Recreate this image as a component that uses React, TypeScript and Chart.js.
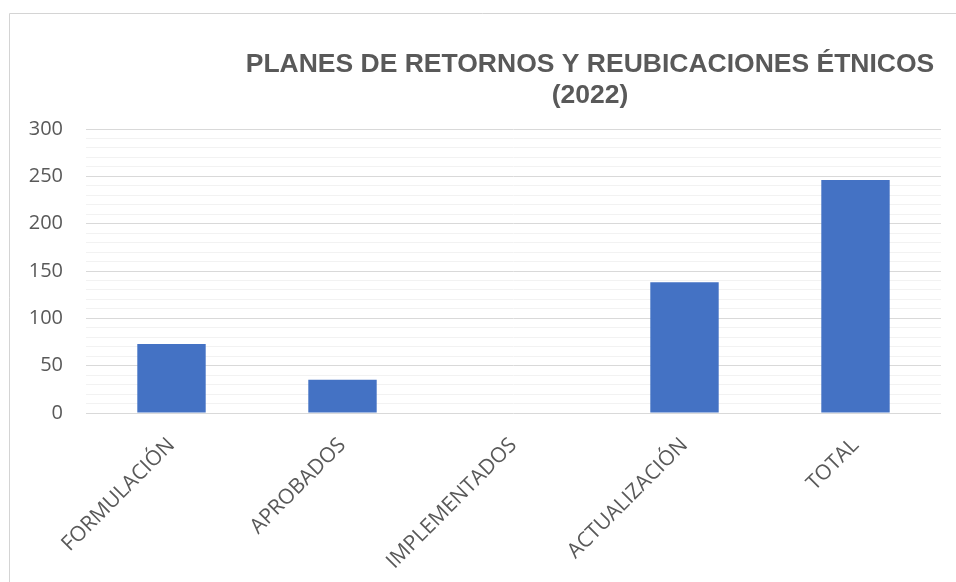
import React, { useEffect, useRef } from "react";
import { Chart, registerables } from "chart.js";

Chart.register(...registerables);

const categories = ["FORMULACIÓN", "APROBADOS", "IMPLEMENTADOS", "ACTUALIZACIÓN", "TOTAL"];
const values = [73, 35, 0, 138, 246];
const titleLines = ["PLANES DE RETORNOS Y REUBICACIONES ÉTNICOS", "(2022)"];
const yMin = 0;
const yMax = 300;
const majorStep = 50;
const minorStep = 10;

const TEXT = "#595959";

const framePlugin = {
  id: "frame",
  beforeDraw(chart: any) {
    const ctx = chart.ctx;
    ctx.save();
    ctx.strokeStyle = "#d4d4d4";
    ctx.lineWidth = 1;
    ctx.beginPath();
    ctx.moveTo(9.5, chart.height);
    ctx.lineTo(9.5, 13.5);
    ctx.lineTo(chart.width, 13.5);
    ctx.stroke();
    ctx.restore();
  },
  afterDraw(chart: any) {
    const ctx = chart.ctx;
    ctx.save();
    ctx.fillStyle = TEXT;
    ctx.font = 'bold 26.5px "Liberation Sans", Arial, sans-serif';
    ctx.textAlign = "center";
    ctx.textBaseline = "alphabetic";
    const cx = 590;
    ctx.fillText(titleLines[0], cx, 72);
    ctx.fillText(titleLines[1], cx, 103);
    ctx.restore();
  },
};

export default function App() {
  const ref = useRef<HTMLCanvasElement | null>(null);
  useEffect(() => {
    if (!ref.current) return;
    const chart = new Chart(ref.current, {
      type: "bar",
      data: {
        labels: categories,
        datasets: [
          {
            data: values,
            backgroundColor: "#4472C4",
            borderWidth: 0,
            barPercentage: 0.4,
            categoryPercentage: 1,
          },
        ],
      },
      options: {
        responsive: false,
        animation: false,
        layout: { padding: { top: 129, right: 15, left: 0, bottom: 0 } },
        plugins: { legend: { display: false }, tooltip: { enabled: false }, title: { display: false } },
        scales: {
          x: {
            grid: { display: false },
            border: { display: false },
            ticks: {
              color: TEXT,
              font: { family: '"Open Sans", sans-serif', size: 21 },
              minRotation: 45,
              maxRotation: 45,
              padding: 12,
              autoSkip: false,
            },
            afterFit(scale: any) {
              scale.height = 169;
            },
          },
          y: {
            min: yMin,
            max: yMax,
            border: { display: false },
            grid: {
              drawTicks: false,
              color: (c: any) => (c.tick && c.tick.value % majorStep === 0 ? "#d9d9d9" : "#f2f2f2"),
              lineWidth: 1,
            },
            ticks: {
              stepSize: minorStep,
              autoSkip: false,
              padding: 23,
              color: TEXT,
              font: { family: '"Open Sans", sans-serif', size: 20 },
              callback: (v: any) => (Number(v) % majorStep === 0 ? String(v) : ""),
            },
            afterFit(scale: any) {
              scale.width = 86;
            },
          },
        },
      },
      plugins: [framePlugin],
    });
    return () => chart.destroy();
  }, []);
  return (
    <div style={{ position: "absolute", left: 0, top: 0, width: 956, height: 582, background: "#fff" }}>
      <canvas ref={ref} width={956} height={582} />
    </div>
  );
}
